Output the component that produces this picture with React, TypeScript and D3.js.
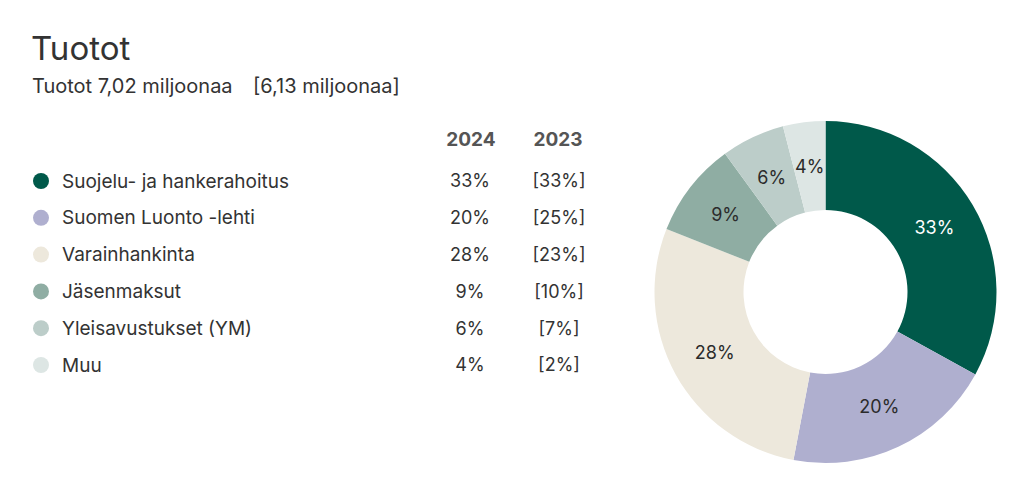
import React from "react";
import * as d3 from "d3";

const categories = ["Suojelu- ja hankerahoitus", "Suomen Luonto -lehti", "Varainhankinta", "Jäsenmaksut", "Yleisavustukset (YM)", "Muu"];
const values2024 = [33, 20, 28, 9, 6, 4];
const values2023 = [33, 25, 23, 10, 7, 2];
const colors = ["#00594a", "#afafcf", "#ede8dc", "#8fada3", "#bccdc9", "#dde6e4"];
const labelColors = ["#ffffff", "#2b2b2b", "#2b2b2b", "#2b2b2b", "#2b2b2b", "#2b2b2b"];
const yearHeaders = ["2024", "2023"];
const title = "Tuotot";
const subtitleMain = "Tuotot 7,02 miljoonaa";
const subtitlePrev = "[6,13 miljoonaa]";

const W = 1024;
const H = 494;
const FONT = "Inter, 'Noto Sans', sans-serif";

export default function App() {
  const cx = 825.5;
  const cy = 292;
  const outerR = 171;
  const innerR = 82;
  const pie = d3.pie<number>().sort(null).value((d) => d);
  const arcs = pie(values2024);
  const arcGen = d3.arc<d3.PieArcDatum<number>>().innerRadius(innerR).outerRadius(outerR);
  const labelArc = d3.arc<d3.PieArcDatum<number>>().innerRadius((innerR + outerR) / 2).outerRadius((innerR + outerR) / 2);

  const rowY = d3.scalePoint<number>().domain(d3.range(categories.length)).range([181, 365]);

  return (
    <svg width={W} height={H} viewBox={`0 0 ${W} ${H}`} style={{ position: "absolute", left: 0, top: 0, background: "#fff" }} fontFamily={FONT}>
      <rect width={W} height={H} fill="#fff" />
      <text x={31} y={60} fontSize={33} fill="#333" fontWeight={400}>{title}</text>
      <text x={32} y={93} fontSize={20} fill="#333">{subtitleMain}</text>
      <text x={253} y={93} fontSize={20} fill="#333">{subtitlePrev}</text>
      <text x={471} y={146} fontSize={19} fill="#555" fontWeight={700} textAnchor="middle">{yearHeaders[0]}</text>
      <text x={558} y={146} fontSize={19} fill="#555" fontWeight={700} textAnchor="middle">{yearHeaders[1]}</text>
      {categories.map((c, i) => {
        const y = rowY(i) as number;
        return (
          <g key={c}>
            <circle cx={41} cy={y} r={8} fill={colors[i]} />
            <text x={62} y={y} dy="0.35em" fontSize={19} fill="#333">{c}</text>
            <text x={470} y={y} dy="0.35em" fontSize={18} fill="#333" textAnchor="middle">{values2024[i]}%</text>
            <text x={559} y={y} dy="0.35em" fontSize={18} fill="#333" textAnchor="middle">[{values2023[i]}%]</text>
          </g>
        );
      })}
      <g transform={`translate(${cx},${cy})`}>
        {arcs.map((a, i) => (
          <path key={i} d={arcGen(a) as string} fill={colors[i]} />
        ))}
        {arcs.map((a, i) => {
          const [lx, ly] = labelArc.centroid(a);
          return (
            <text key={"l" + i} x={lx} y={ly} dy="0.35em" textAnchor="middle" fontSize={18} fill={labelColors[i]}>
              {values2024[i]}%
            </text>
          );
        })}
      </g>
    </svg>
  );
}
